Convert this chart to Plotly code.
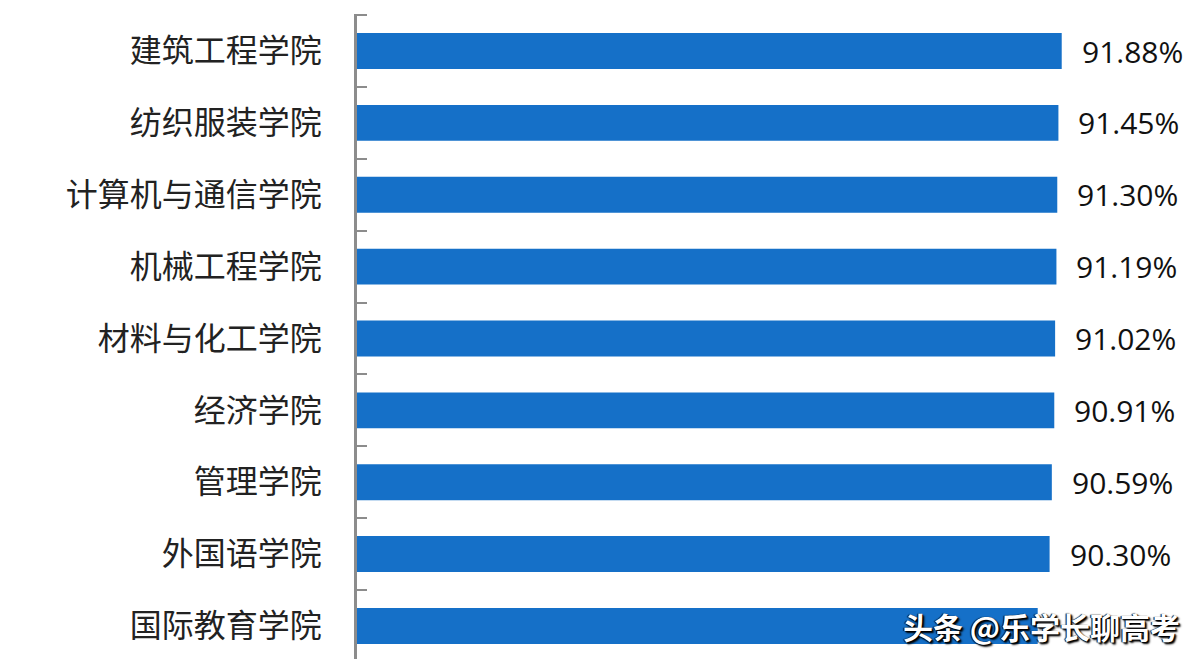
import plotly.graph_objects as go

categories = ["建筑工程学院", "纺织服装学院", "计算机与通信学院", "机械工程学院",
              "材料与化工学院", "经济学院", "管理学院", "外国语学院", "国际教育学院"]
values = [91.88, 91.45, 91.30, 91.19, 91.02, 90.91, 90.59, 90.30, 88.75]
labels = ["91.88%", "91.45%", "91.30%", "91.19%", "91.02%", "90.91%", "90.59%", "90.30%", ""]
watermark = "头条 @乐学长聊高考"

fig = go.Figure()
fig.add_trace(go.Bar(
    y=categories, x=values, orientation="h",
    marker=dict(color="#1570C8", line=dict(width=0)),
    hoverinfo="skip",
))

annotations = []
for c, v, t in zip(categories, values, labels):
    if t:
        annotations.append(dict(x=v, y=c, xref="x", yref="y", text=t, showarrow=False,
                                xanchor="left", yanchor="middle", xshift=18,
                                font=dict(family="Open Sans", size=30, color="#111111")))
annotations.append(dict(x=0.893, y=categories[-1], xref="paper", yref="y", text=watermark,
                        showarrow=False, xanchor="center", yanchor="middle", yshift=0,
                        font=dict(family="Noto Sans CJK SC", size=30, color="white",
                                  weight="bold", shadow="1px 1px 1px #000, -1px 0px 1px #000, 2px 2px 2px #000")))

fig.update_layout(
    width=1192, height=651,
    margin=dict(l=349, r=76, t=6, b=0),
    paper_bgcolor="white", plot_bgcolor="white",
    bargap=0.5,
    showlegend=False,
    annotations=annotations,
    xaxis=dict(range=[0, 100], visible=False, fixedrange=True),
    yaxis=dict(
        type="category", categoryorder="array", categoryarray=categories,
        range=[8.46, -0.515],
        showline=True, linecolor="#8c8c8c", linewidth=2.5,
        ticks="inside", tickson="boundaries", ticklen=10, tickcolor="#8c8c8c", tickwidth=2,
        ticklabelstandoff=26,
        tickfont=dict(family="Noto Sans CJK SC", size=32, color="#222222"),
        showgrid=False, zeroline=False,
    ),
)

fig.write_html("out.html")
